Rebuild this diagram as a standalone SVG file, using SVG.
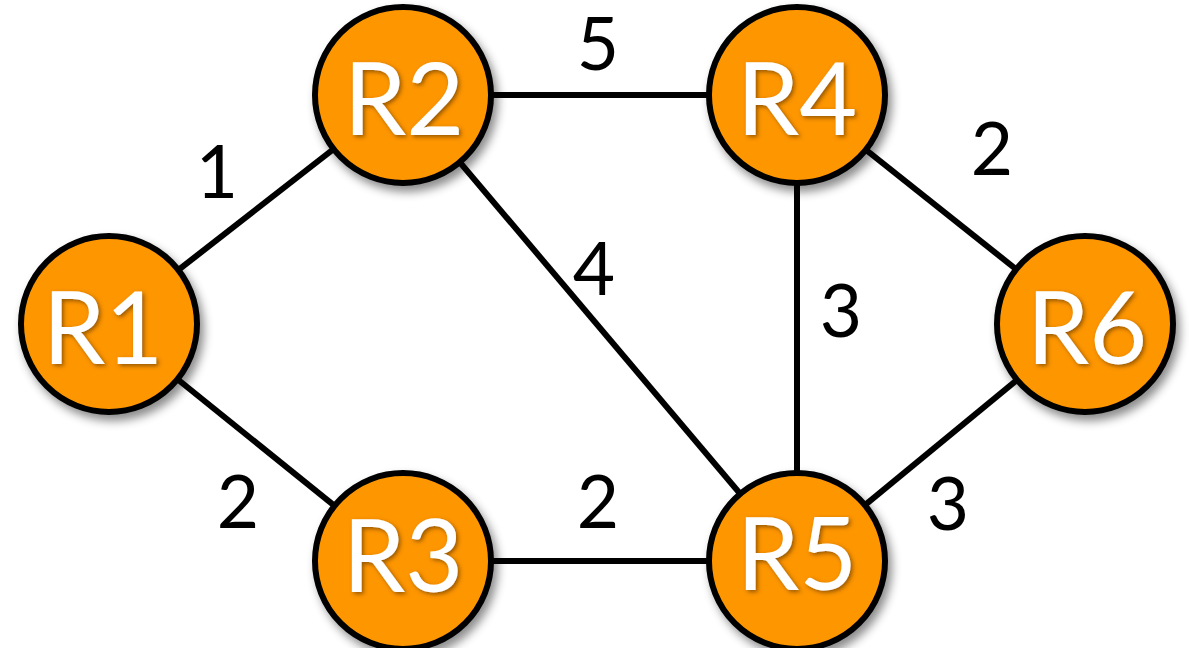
<svg xmlns="http://www.w3.org/2000/svg" width="1189" height="648" viewBox="0 0 1189 648">
  <defs>
    <filter id="nodeShadow" x="-30%" y="-30%" width="160%" height="160%">
      <feDropShadow dx="4" dy="6" stdDeviation="5" flood-color="#000" flood-opacity="0.45"/>
    </filter>
    <filter id="textShadow" x="-20%" y="-20%" width="140%" height="140%">
      <feDropShadow dx="2" dy="2" stdDeviation="2" flood-color="#6b3c00" flood-opacity="0.7"/>
    </filter>
  </defs>
  <style>
    .edge { stroke: #000; stroke-width: 6; fill: none; }
    .node circle { fill: #FE9600; stroke: #000; stroke-width: 6; filter: url(#nodeShadow); }
    .node text { font-family: "Lato", "Open Sans", sans-serif; font-size: 100px; fill: #fff; text-anchor: middle; filter: url(#textShadow); }
    .weight { font-family: "Lato", "Open Sans", sans-serif; font-size: 73px; fill: #000; text-anchor: middle; }
  </style>
  <rect width="1189" height="648" fill="#fff"/>

  <g id="connectors">
    <line class="edge" x1="109" y1="324" x2="403" y2="95"/>
    <line class="edge" x1="109" y1="324" x2="403" y2="561"/>
    <line class="edge" x1="403" y1="95" x2="797" y2="95"/>
    <line class="edge" x1="403" y1="95" x2="797" y2="561"/>
    <line class="edge" x1="403" y1="561" x2="797" y2="561"/>
    <line class="edge" x1="797" y1="95" x2="797" y2="561"/>
    <line class="edge" x1="797" y1="95" x2="1085" y2="324"/>
    <line class="edge" x1="797" y1="561" x2="1085" y2="324"/>
  </g>

  <g id="weights">
    <text class="weight" x="217" y="198">1</text>
    <text class="weight" x="598" y="70">5</text>
    <text class="weight" x="992" y="175">2</text>
    <text class="weight" x="594" y="295">4</text>
    <text class="weight" x="841" y="337">3</text>
    <text class="weight" x="238" y="528">2</text>
    <text class="weight" x="598" y="528">2</text>
    <text class="weight" x="948" y="530">3</text>
  </g>

  <g id="R1" class="node"><circle cx="109" cy="324" r="88"/><text x="103" y="364">R1</text></g>
  <g id="R2" class="node"><circle cx="403" cy="95" r="88"/><text x="404" y="135">R2</text></g>
  <g id="R4" class="node"><circle cx="797" cy="95" r="88"/><text x="797" y="135">R4</text></g>
  <g id="R6" class="node"><circle cx="1085" cy="324" r="88"/><text x="1087" y="364">R6</text></g>
  <g id="R3" class="node"><circle cx="403" cy="561" r="88"/><text x="403" y="592">R3</text></g>
  <g id="R5" class="node"><circle cx="797" cy="561" r="88"/><text x="797" y="590">R5</text></g>
</svg>
